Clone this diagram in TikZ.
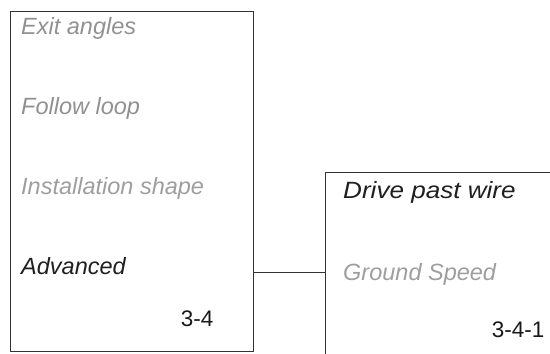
\documentclass[tikz,border=0pt]{standalone}
\usepackage{fontspec}
\setmainfont{Liberation Sans}
\newfontfamily\widefont[FakeStretch=1.11]{Liberation Sans}
\begin{document}
\begin{tikzpicture}[x=1pt,y=1pt,
  frame/.style={draw=black!80,line width=1pt},
  menuitem/.style={anchor=base west,inner sep=0pt,font=\fontsize{23.5}{27}\selectfont\itshape},
  dimitem/.style={menuitem,text=black!43},
  activeitem/.style={menuitem,text=black!88},
  idlabel/.style={anchor=base east,inner sep=0pt,font=\fontsize{22.5}{26}\selectfont,text=black!90},
  link/.style={draw=black!80,line width=1pt}]
\useasboundingbox (0,0) rectangle (550,354);
\clip (0,0) rectangle (550,354);
% left menu box
\node[frame,rectangle,minimum width=243.5pt,minimum height=340pt,inner sep=0pt] (left) at (131.75,172.5) {};
% right menu box (extends beyond the picture)
\node[frame,rectangle,minimum width=300pt,minimum height=260pt,inner sep=0pt,anchor=north west] (right) at (325,182) {};
% texts in left box
\node[dimitem] (t1) at (21,319) {Exit angles};
\node[dimitem] (t2) at (21,239) {Follow loop};
\node[dimitem,text=black!38] (t3) at (21,159) {Installation shape};
\node[activeitem] (t4) at (21,79) {Advanced};
\node[idlabel] (id1) at (213.5,27) {3-4};
% texts in right box
\node[activeitem,font=\fontsize{23.5}{27}\widefont\itshape] (r1) at (343,155) {Drive past wire};
\node[dimitem,text=black!38] (r2) at (343,73) {Ground Speed};
\node[idlabel] (id2) at (544.5,16) {3-4-1};
% connector
\coordinate (c) at (0,81);
\draw[link] (left.east |- c) -- (right.west |- c);
\end{tikzpicture}
\end{document}
